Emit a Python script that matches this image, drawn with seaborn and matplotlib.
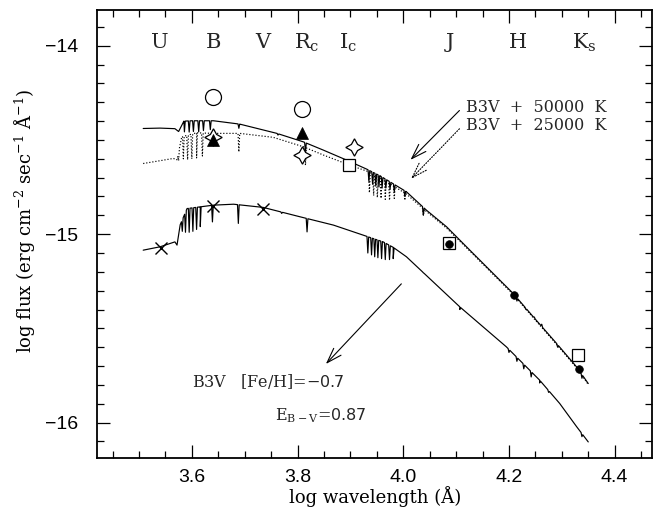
import numpy as np
import pandas as pd
import matplotlib
matplotlib.use("Agg")
import matplotlib.pyplot as plt
import seaborn as sns
from matplotlib.ticker import MultipleLocator, FixedLocator

# ---------------- data ----------------
# B3V + 50000 K (solid upper): continuum points
s50_x = [3.508, 3.540, 3.568, 3.575, 3.585, 3.600, 3.641, 3.691, 3.761, 3.811, 3.849,
         3.893, 3.931, 3.956, 4.006, 4.044, 4.082, 4.126, 4.208, 4.246, 4.290, 4.328, 4.350]
s50_y = [-14.439, -14.437, -14.440, -14.455, -14.400, -14.398, -14.398, -14.416, -14.465,
         -14.510, -14.554, -14.607, -14.655, -14.690, -14.775, -14.873, -14.961, -15.085,
         -15.315, -15.439, -15.580, -15.705, -15.793]
# absorption lines (position, bottom)
s50_lx = [3.586, 3.595, 3.603, 3.613, 3.622, 3.635, 3.689, 3.763, 3.815,
          3.935, 3.942, 3.948, 3.954, 3.960, 3.967, 3.975, 3.983, 4.003, 4.038,
          4.215, 4.232, 4.248, 4.262, 4.292, 4.338]
s50_ly = [-14.457, -14.458, -14.455, -14.457, -14.450, -14.445, -14.438, -14.474, -14.563,
          -14.720, -14.735, -14.745, -14.750, -14.755, -14.755, -14.760, -14.775, -14.800, -14.900,
          -15.355, -15.400, -15.440, -15.478, -15.600, -15.765]

# B3V + 25000 K (dotted)
s25_x = [3.508, 3.540, 3.565, 3.572, 3.581, 3.609, 3.641, 3.691, 3.754, 3.811, 3.849,
         3.899, 3.931, 3.956, 4.006, 4.044, 4.082, 4.126, 4.208, 4.246, 4.290, 4.328, 4.350]
s25_y = [-14.625, -14.610, -14.598, -14.605, -14.483, -14.462, -14.465, -14.465, -14.486,
         -14.536, -14.580, -14.634, -14.665, -14.700, -14.787, -14.880, -14.968, -15.090,
         -15.320, -15.444, -15.585, -15.710, -15.798]
s25_lx = [3.575, 3.584, 3.592, 3.600, 3.609, 3.620, 3.689, 3.815,
          3.936, 3.944, 3.951, 3.958, 3.966, 3.974, 3.983, 4.003, 4.038]
s25_ly = [-14.610, -14.600, -14.605, -14.600, -14.595, -14.585, -14.563, -14.634,
          -14.780, -14.795, -14.805, -14.810, -14.815, -14.820, -14.810, -14.820, -14.900]

# B3V, [Fe/H]=-0.7, E(B-V)=0.87 (solid lower)
b3_x = [3.508, 3.540, 3.568, 3.572, 3.578, 3.591, 3.616, 3.641, 3.679, 3.735, 3.805,
        3.868, 3.924, 3.962, 3.981, 4.006, 4.107, 4.195, 4.258, 4.296, 4.328, 4.350]
b3_y = [-15.085, -15.067, -15.041, -15.058, -14.950, -14.864, -14.855, -14.846, -14.841,
        -14.858, -14.908, -14.952, -15.005, -15.041, -15.070, -15.120, -15.386, -15.598,
        -15.775, -15.899, -16.022, -16.103]
b3_lx = [3.582, 3.588, 3.595, 3.602, 3.609, 3.616, 3.639, 3.688, 3.770, 3.818,
         3.933, 3.940, 3.946, 3.952, 3.959, 3.966, 3.974, 3.981, 4.038, 4.107,
         4.200, 4.215, 4.228, 4.242, 4.258, 4.275, 4.338]
b3_ly = [-14.985, -14.990, -14.990, -14.985, -14.975, -14.960, -14.935, -14.943, -14.890, -14.988,
         -15.100, -15.110, -15.120, -15.125, -15.130, -15.135, -15.135, -15.130, -15.205, -15.400,
         -15.628, -15.675, -15.715, -15.758, -15.790, -15.840, -16.075]

# photometry
circ_x, circ_y = [3.640, 3.809], [-14.270, -14.333]
tri_x, tri_y = [3.640, 3.809], [-14.500, -14.462]
star_x, star_y = [3.640, 3.809, 3.906], [-14.483, -14.580, -14.536]
sq_x, sq_y = [3.898, 4.087, 4.331], [-14.634, -15.046, -15.639]
dot_x, dot_y = [4.087, 4.210, 4.332], [-15.050, -15.324, -15.717]
cross_x, cross_y = [3.541, 3.641, 3.735], [-15.071, -14.851, -14.864]

bands = ["U", "B", "V", "R$_{\\rm c}$", "I$_{\\rm c}$", "J", "H", "K$_{\\rm s}$"]
band_x = [3.540, 3.641, 3.735, 3.817, 3.895, 4.088, 4.217, 4.343]

xticks = [3.6, 3.8, 4.0, 4.2, 4.4]
yticks = [-16, -15, -14]


def build(cx, cy, lx, ly, w=0.0016):
    xs, ys = list(cx), list(cy)
    for x0, yb in zip(lx, ly):
        for xx in (x0 - w, x0 + w):
            xs.append(xx)
            ys.append(float(np.interp(xx, cx, cy)))
        xs.append(x0)
        ys.append(yb)
    order = np.argsort(xs, kind="stable")
    return pd.DataFrame({"x": np.array(xs)[order], "y": np.array(ys)[order]})


# ---------------- figure ----------------
sns.set_theme(style="ticks")
plt.rcParams["font.family"] = ["DejaVu Serif"]
plt.rcParams["mathtext.fontset"] = "dejavuserif"
plt.rcParams["axes.unicode_minus"] = True

fig = plt.figure(figsize=(6.59, 5.13), dpi=100)
ax = fig.add_axes([0.1467, 0.1066, 0.8422, 0.8739])

ink = "black"
lw = 0.85
sns.lineplot(data=build(s50_x, s50_y, s50_lx, s50_ly), x="x", y="y", sort=False,
             estimator=None, color=ink, lw=lw, ax=ax)
sns.lineplot(data=build(s25_x, s25_y, s25_lx, s25_ly), x="x", y="y", sort=False,
             estimator=None, color=ink, lw=lw, ax=ax, linestyle=(0, (1, 1.6)))
sns.lineplot(data=build(b3_x, b3_y, b3_lx, b3_ly), x="x", y="y", sort=False,
             estimator=None, color=ink, lw=lw, ax=ax)

mk = dict(linestyle="none", color=ink, zorder=5)
ax.plot(circ_x, circ_y, marker="o", ms=11.5, mfc="white", mew=0.9, **mk)
ax.plot(star_x, star_y, marker=(4, 1, 0), ms=12.5, mfc="white", mew=0.9, **mk)
ax.plot(tri_x, tri_y, marker="^", ms=8, mfc=ink, mew=0.5, **mk)
ax.plot(sq_x, sq_y, marker="s", ms=8, mfc="white", mew=0.9, **mk)
ax.plot(dot_x, dot_y, marker="o", ms=5.5, mfc=ink, mew=0.5, **mk)
ax.plot(cross_x, cross_y, marker="x", ms=8, mew=1.0, **mk)

for lab, bx in zip(bands, band_x):
    ax.text(bx, -14.014, lab, ha="center", va="baseline", fontsize=15)

ax.text(4.119, -14.35, "B3V  +  50000  K", fontsize=11.5, va="baseline")
ax.text(4.119, -14.448, "B3V  +  25000  K", fontsize=11.5, va="baseline")
ax.text(3.600, -15.811, "B3V   [Fe/H]=$\\mathsf{\u22120.7}$", fontsize=11.5, va="baseline")
ax.text(3.757, -15.988, "E$_{\\rm B\u2212V}$=$\\mathsf{0.87}$", fontsize=11.5, va="baseline")

ax.annotate("", xy=(4.010, -14.616), xytext=(4.110, -14.333),
            arrowprops=dict(arrowstyle="->,head_length=0.9,head_width=0.3", lw=0.8, color=ink))
ax.annotate("", xy=(4.011, -14.717), xytext=(4.110, -14.43),
            arrowprops=dict(arrowstyle="->,head_length=0.9,head_width=0.3", lw=0.8,
                            color=ink, linestyle=(0, (1, 1.5))))
ax.annotate("", xy=(3.850, -15.70), xytext=(4.000, -15.253),
            arrowprops=dict(arrowstyle="->,head_length=0.9,head_width=0.3", lw=0.8, color=ink))

ax.set_xlim(3.42, 4.47)
ax.set_ylim(-16.19, -13.81)
ax.xaxis.set_major_locator(FixedLocator(xticks))
ax.xaxis.set_minor_locator(MultipleLocator(0.05))
ax.yaxis.set_major_locator(FixedLocator(yticks))
ax.yaxis.set_minor_locator(MultipleLocator(0.1))
ax.xaxis.set_major_formatter(matplotlib.ticker.FormatStrFormatter("%.1f"))
ax.yaxis.set_major_formatter(matplotlib.ticker.FuncFormatter(lambda v, p: f"\u2212{abs(int(v))}"))

ax.tick_params(which="both", direction="in", top=True, right=True, color=ink, width=0.9,
               labelsize=14, labelfontfamily="Liberation Sans", labelcolor=ink)
ax.tick_params(which="major", length=9.6)
ax.tick_params(which="minor", length=4.8)
ax.tick_params(axis="x", which="major", pad=8)
ax.tick_params(axis="y", which="major", pad=13)
for sp in ax.spines.values():
    sp.set_linewidth(1.3)
    sp.set_color(ink)

ax.set_xlabel("log wavelength (Å)", fontsize=13, color=ink)
ax.set_ylabel("log flux (erg cm$^{\u22122}$ sec$^{\u22121}$ Å$^{\u22121}$)", fontsize=13, color=ink)
ax.xaxis.set_label_coords(0.501, -0.062)
ax.yaxis.set_label_coords(-0.1076, 0.53)
ax.grid(False)

fig.savefig("out.png", dpi=100)
